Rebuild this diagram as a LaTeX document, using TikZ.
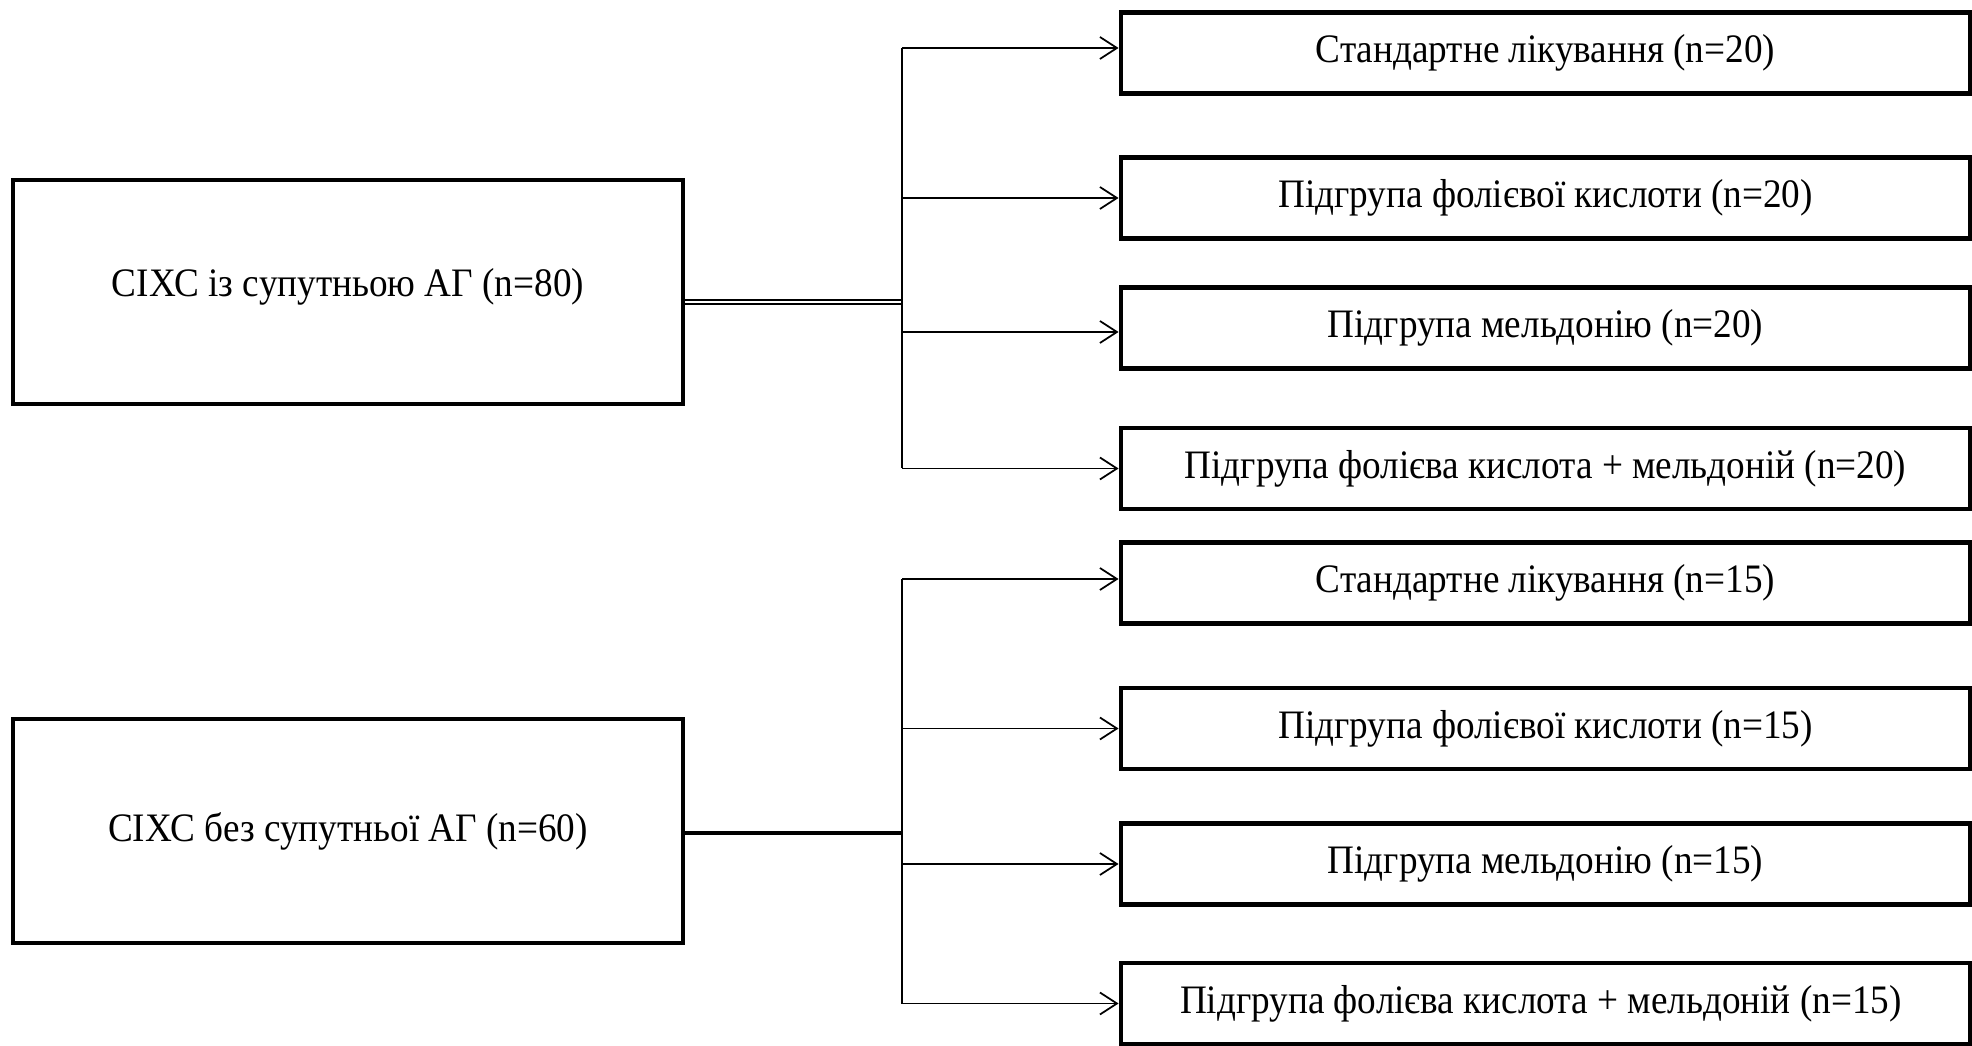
\documentclass[tikz,border=0pt]{standalone}
\usepackage{fontspec}
\setmainfont[FakeStretch=0.92]{Liberation Serif}
\usepackage{tikz}
\usetikzlibrary{arrows,arrows.meta,positioning,calc}

\tikzset{
    mainbox/.style={draw, line width=1.4pt, minimum width=6.70cm, minimum height=2.24cm, align=center, inner sep=0pt},
    subbox/.style={draw, line width=1.4pt, minimum width=8.49cm, minimum height=0.81cm, align=center, inner sep=0pt},
    branch/.style={line width=0.5pt}
}

\begin{document}
\begin{tikzpicture}[font=\fontsize{11.5}{13.5}\selectfont]
    \useasboundingbox (0,0) rectangle (19.72,10.45);
    % \draw[gray!30] (0,0) grid (20,10);
    % groups on the left
    \node[mainbox, text depth=0.2cm] (withag) at (3.48,7.53) {СІХС із супутньою АГ (n=80)};
    \node[mainbox] (noag) at (3.48,2.14) {СІХС без супутньої АГ (n=60)};

    % subgroups on the right
    \foreach \name/\y/\label in {
        sa/9.92/Стандартне лікування (n=20),
        sb/8.47/Підгрупа фолієвої кислоти (n=20),
        sc/7.17/Підгрупа мельдонію (n=20),
        sd/5.765/Підгрупа фолієва кислота + мельдоній (n=20),
        se/4.62/Стандартне лікування (n=15),
        sf/3.165/Підгрупа фолієвої кислоти (n=15),
        sg/1.81/Підгрупа мельдонію (n=15),
        sh/0.415/Підгрупа фолієва кислота + мельдоній (n=15)
    }{
        \node[subbox] (\name) at (15.455,\y) {\label};
    }

    \coordinate (jtop) at (9.02,7.43);
    \coordinate (jbot) at (9.02,2.12);

    \draw [double, line width=0.5pt, double distance=0.45pt] (withag.east |- jtop) -- (jtop);
    \draw [line width=1pt] (noag.east |- jbot) -- (jbot);

    % arrow ends, a little off the box middles
    \foreach \s/\dy in {sa/0.05, sb/0, sc/-0.04, sd/0, se/0.04, sf/0, sg/0, sh/0}{
        \coordinate (in\s) at ([yshift=\dy cm]\s.west);
    }

    \draw [branch] (jtop |- insa) -- (jtop |- insd);
    \draw [branch] (jbot |- inse) -- (jbot |- insh);

    \foreach \j/\s in {jtop/sa, jtop/sb, jtop/sc, jtop/sd, jbot/se, jbot/sf, jbot/sg, jbot/sh}{
        \draw [branch, -{Straight Barb[length=1.7mm, width=2.2mm]}] (\j |- in\s) -- (in\s);
    }
\end{tikzpicture}
\end{document}
